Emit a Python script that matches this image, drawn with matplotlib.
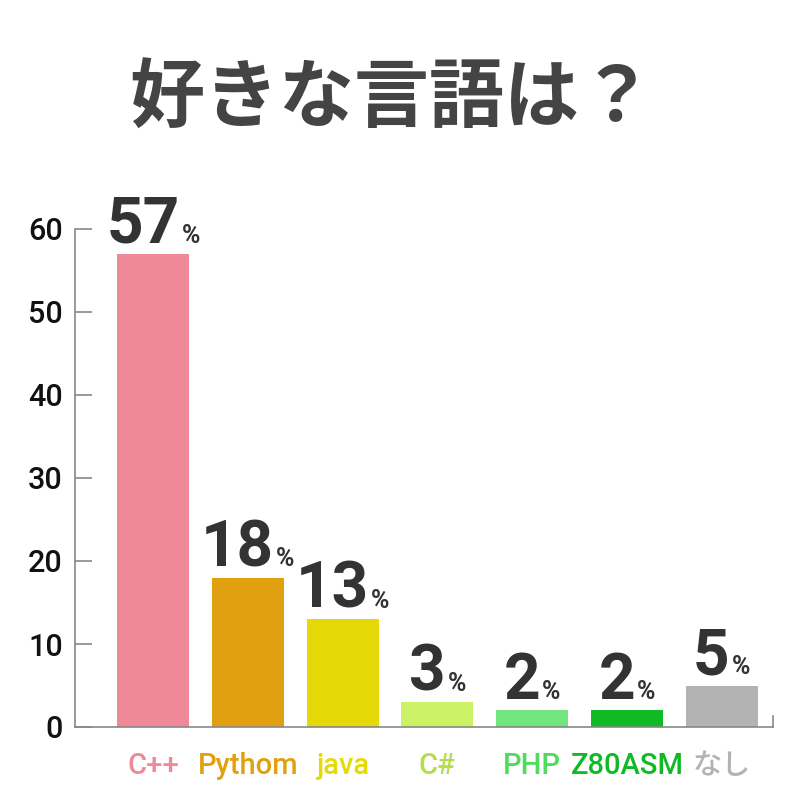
import matplotlib
matplotlib.use("Agg")
import matplotlib.pyplot as plt
from matplotlib.transforms import offset_copy

categories = ["C++", "Pythom", "java", "C#", "PHP", "Z80ASM", "なし"]
values = [57, 18, 13, 3, 2, 2, 5]
bar_colors = ["#EF8897", "#E0A010", "#E5DA08", "#CCF266", "#72E57F", "#10BA25", "#B3B3B3"]
label_colors = ["#EF8897", "#E0A010", "#E5DA08", "#B5DC4A", "#4FDC5E", "#10BA25", "#B3B3B3"]
yticks = [0, 10, 20, 30, 40, 50, 60]
title = "好きな言語は？"

plt.rcParams['font.family'] = ['Roboto', 'Noto Sans CJK JP', 'DejaVu Sans']

fig = plt.figure(figsize=(8, 8), dpi=100)
ax = fig.add_axes([0.094, 0.09125, 0.872, 0.6225])

x = list(range(len(categories)))
ax.bar(x, values, width=0.76, color=bar_colors, zorder=2)

ax.set_xlim(-0.823, 6.54)
ax.set_ylim(0, 60)
ax.set_yticks(yticks)
ax.set_yticklabels([str(t) for t in yticks], fontsize=22, fontweight='medium', color='#111111')
ax.tick_params(axis='y', direction='in', length=12, width=1.2, color='#888888', pad=9)
ax.set_xticks(x)
ax.set_xticklabels(categories, fontsize=21, fontweight='medium')
for lbl, c in zip(ax.get_xticklabels(), label_colors):
    lbl.set_color(c)
    lbl.set_family(['Roboto', 'Noto Sans CJK JP'])
ax.tick_params(axis='x', length=0, pad=18)

ax.spines['top'].set_visible(False)
ax.spines['right'].set_bounds(0, 1.3)
for s in ['left', 'bottom', 'right']:
    ax.spines[s].set_color('#888888')
    ax.spines[s].set_linewidth(1.2)

fig.text(0.49, 0.875, title, ha='center', va='center', fontsize=54,
         fontweight='bold', color='#444444', family=['Noto Sans CJK JP'])

fig.canvas.draw()
renderer = fig.canvas.get_renderer()
p = 72.0 / fig.dpi
for xi, v in zip(x, values):
    t1 = ax.text(xi, v, str(v), ha='left', va='baseline', fontsize=46,
                 fontweight='bold', color='#333333', clip_on=False)
    t2 = ax.text(xi, v, "%", ha='left', va='baseline', fontsize=18,
                 fontweight='bold', color='#333333', clip_on=False)
    w1 = t1.get_window_extent(renderer).width
    w2 = t2.get_window_extent(renderer).width
    gap = 2
    total = w1 + gap + w2
    start = -total / 2.0
    t1.set_transform(offset_copy(ax.transData, fig=fig, x=start * p, y=8, units='points'))
    t2.set_transform(offset_copy(ax.transData, fig=fig, x=(start + w1 + gap) * p, y=8, units='points'))

fig.savefig("out.png", dpi=100, facecolor='white')
